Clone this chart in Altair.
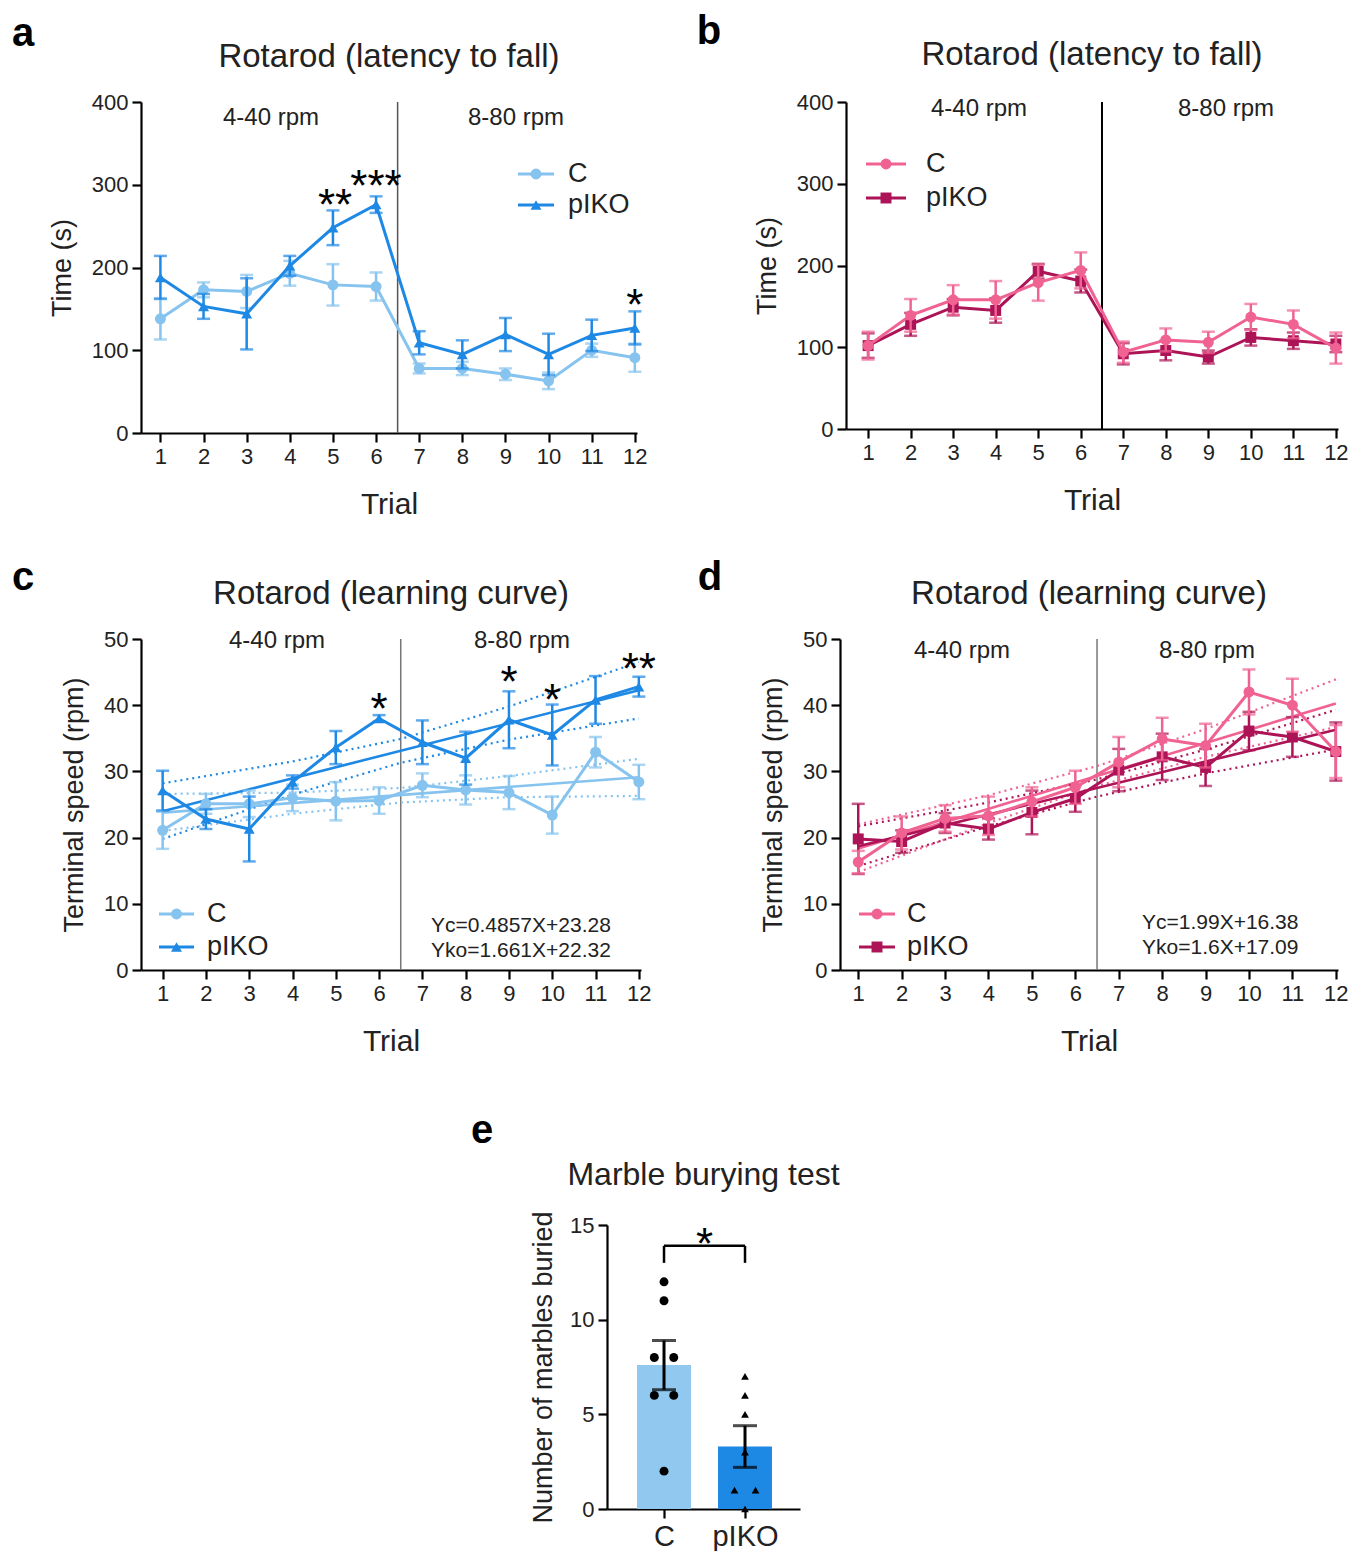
import altair as alt
import pandas as pd

FONT = "Liberation Sans, Arial, Helvetica, sans-serif"
TXT = "#222222"
LIGHT_BLUE = "#86C3EE"
BLUE = "#1E88E5"
PINK = "#F06292"
DPINK = "#AD1457"

TRIALS = list(range(1, 13))
GROUPS = ["C", "pIKO"]

# ---- panel a: latency to fall (blue) ----
a_C_mean = [138, 173, 171, 193, 179, 177, 78, 78, 71, 63, 100, 91]
a_C_sem = [25, 9, 20, 15, 25, 17, 6, 8, 7, 10, 8, 17]
a_K_mean = [188, 153, 144, 202, 248, 276, 109, 95, 119, 95, 118, 127]
a_K_sem = [26, 15, 43, 12, 21, 10, 14, 17, 20, 25, 19, 20]
a_stars = ["**", "***", "*"]
a_star_x = [5.05, 6.0, 12.0]
a_star_y = [289, 312, 168]

# ---- panel b: latency to fall (pink) ----
b_C_mean = [102, 139, 158, 158, 179, 194, 94, 109, 106, 137, 128, 99]
b_C_sem = [17, 20, 18, 23, 22, 22, 13, 14, 13, 16, 17, 19]
b_K_mean = [102, 128, 149, 145, 193, 181, 92, 96, 88, 112, 108, 104]
b_K_sem = [15, 14, 10, 15, 9, 14, 13, 12, 8, 10, 10, 10]

# ---- panel c: learning curve (blue) ----
c_C_mean = [21.1, 25.1, 25.1, 26.0, 25.5, 25.6, 27.9, 27.2, 26.8, 23.4, 32.9, 28.4]
c_C_sem = [2.8, 1.5, 2.0, 2.0, 2.9, 2.0, 1.8, 2.2, 2.5, 2.8, 2.3, 2.6]
c_K_mean = [27.1, 22.8, 21.3, 28.4, 33.6, 38.0, 34.4, 32.0, 37.8, 35.5, 40.8, 42.8]
c_K_sem = [3.0, 1.5, 4.9, 1.0, 2.5, 0.5, 3.3, 4.0, 4.3, 4.6, 3.6, 1.5]
c_fit_C = (0.4857, 23.28)
c_fit_K = (1.661, 22.32)
c_eq = ["Yc=0.4857X+23.28", "Yko=1.661X+22.32"]
band_x = [1, 4, 6.5, 9, 12]
c_C_up = [26.6, 26.8, 27.5, 29.3, 31.9]
c_C_lo = [21.0, 23.6, 25.3, 26.1, 26.3]
c_K_up = [28.2, 31.5, 34.9, 39.8, 46.5]
c_K_lo = [19.8, 26.5, 31.3, 34.8, 38.0]
c_stars = ["*", "*", "*", "**"]
c_star_x = [6, 9, 10, 12]
c_star_y = [41.1, 45.2, 42.4, 47.1]

# ---- panel d: learning curve (pink) ----
d_C_mean = [16.3, 20.7, 22.9, 23.3, 25.4, 27.6, 31.4, 34.9, 33.9, 42.0, 40.0, 33.0]
d_C_sem = [1.7, 2.5, 2.0, 2.9, 2.2, 2.5, 3.8, 3.2, 3.3, 3.4, 4.0, 4.0]
d_K_mean = [19.8, 19.4, 22.2, 21.3, 23.8, 25.9, 30.2, 32.2, 30.6, 36.1, 35.2, 33.0]
d_K_sem = [5.3, 1.7, 1.5, 1.6, 3.3, 2.0, 3.2, 3.5, 2.8, 2.9, 3.0, 4.4]
d_fit_C = (1.99, 16.38)
d_fit_K = (1.6, 17.09)
d_eq = ["Yc=1.99X+16.38", "Yko=1.6X+17.09"]
d_C_up = [22.0, 26.4, 30.8, 36.4, 43.9]
d_C_lo = [14.8, 22.2, 27.8, 32.2, 36.7]
d_K_up = [21.7, 25.3, 28.8, 33.3, 39.3]
d_K_lo = [15.7, 21.7, 26.2, 29.7, 33.3]

# ---- panel e: marble burying ----
e_groups = ["C", "pIKO"]
e_pos = [1, 2]
e_mean = [7.6, 3.3]
e_sem = [1.3, 1.1]
e_C_pts = [12, 11, 8, 8, 6, 6, 2]
e_C_jit = [0, 0, -0.12, 0.12, -0.12, 0.12, 0]
e_K_pts = [7, 6, 5, 3, 1, 1, 0]
e_K_jit = [0, 0, 0, 0, -0.13, 0.13, 0]

ONE = pd.DataFrame({"k": [0]})
STAR_FS = 44


def series_df(mean, sem):
    return pd.DataFrame({
        "trial": TRIALS,
        "val": mean,
        "lo": [m - s for m, s in zip(mean, sem)],
        "hi": [m + s for m, s in zip(mean, sem)],
    })


def text_at(txt, x, y, size, weight="normal", align="center", baseline="alphabetic",
            color=TXT):
    return alt.Chart(ONE).mark_text(text=txt, font=FONT, fontSize=size, fontWeight=weight,
                                    color=color, align=align, baseline=baseline).encode(
        x=alt.value(x), y=alt.value(y))


def line_panel(W, H, xdom, ydom, yticks, ytitle, title, title_y, letter, letter_xy,
               series, divider_color, divider_w, rpm_xy, legend, stars=None,
               fits=None, bands=None, eq=None, eq_xy=None):
    xs = alt.Scale(domain=xdom, nice=False, zero=False)
    ys = alt.Scale(domain=ydom, nice=False)
    xaxis = alt.Axis(values=TRIALS, title="Trial", format="d", titleFontSize=30,
                     titlePadding=22)
    yaxis = alt.Axis(values=yticks, title=ytitle, titlePadding=15)
    X = alt.X("trial:Q", scale=xs, axis=xaxis)

    def Y(f):
        return alt.Y(f + ":Q", scale=ys, axis=yaxis)

    layers = []
    # divider
    layers.append(alt.Chart(ONE).mark_rule(color=divider_color, strokeWidth=divider_w).encode(
        x=alt.X("v:Q", scale=xs, axis=xaxis), y=alt.value(0), y2=alt.value(H)
    ).transform_calculate(v="6.5"))
    # bands and fits
    if bands:
        for up, lo, col in bands:
            for arr in (up, lo):
                df = pd.DataFrame({"trial": band_x, "val": arr})
                layers.append(alt.Chart(df).mark_line(color=col, strokeWidth=2.2,
                                                       strokeDash=[2, 4]).encode(x=X, y=Y("val")))
    if fits:
        for (slope, icpt), col in fits:
            df = pd.DataFrame({"trial": [1, 12], "val": [slope * 1 + icpt, slope * 12 + icpt]})
            layers.append(alt.Chart(df).mark_line(color=col, strokeWidth=2.6).encode(x=X, y=Y("val")))
    for df, col, shape, _lab in series:
        layers.append(alt.Chart(df).mark_rule(color=col, strokeWidth=2.5).encode(
            x=X, y=Y("lo"), y2="hi"))
        for f in ("lo", "hi"):
            layers.append(alt.Chart(df).mark_tick(color=col, orient="horizontal", size=13,
                                                  thickness=2.5).encode(x=X, y=Y(f)))
        layers.append(alt.Chart(df).mark_line(color=col, strokeWidth=3).encode(x=X, y=Y("val")))
        layers.append(alt.Chart(df).mark_point(color=col, filled=True, opacity=1, shape=shape,
                                               size=120).encode(x=X, y=Y("val")))
    # rpm labels
    for txt, (px, py) in zip(["4-40 rpm", "8-80 rpm"], rpm_xy):
        layers.append(text_at(txt, px, py, 24, baseline="middle"))
    # stars
    if stars:
        sdf = pd.DataFrame({"trial": stars[1], "val": stars[2], "s": stars[0]})
        layers.append(alt.Chart(sdf).mark_text(font=FONT, fontSize=STAR_FS, color="black",
                                               align="center", baseline="alphabetic",
                                               dy=round(0.58 * STAR_FS)).encode(
            x=X, y=Y("val"), text="s:N"))
    # legend
    (lx1, lx2, ltx, ly1, ly2) = legend
    for (_df, col, shape, lab), ly in zip(series, [ly1, ly2]):
        layers.append(alt.Chart(ONE).mark_rule(color=col, strokeWidth=3).encode(
            x=alt.value(lx1), x2=alt.value(lx2), y=alt.value(ly)))
        layers.append(alt.Chart(ONE).mark_point(color=col, filled=True, opacity=1, shape=shape,
                                                size=120).encode(
            x=alt.value((lx1 + lx2) / 2), y=alt.value(ly)))
        layers.append(text_at(lab, ltx, ly, 27, align="left", baseline="middle"))
    if eq:
        for i, t in enumerate(eq):
            layers.append(text_at(t, eq_xy[0], eq_xy[1] + i * 25, 21, align="left",
                                  baseline="middle"))
    # panel title and letter
    layers.append(text_at(title, W / 2, title_y, 33))
    layers.append(text_at(letter, letter_xy[0], letter_xy[1], 40, weight="bold", color="black"))
    return alt.layer(*layers).properties(width=W, height=H)


XDOM = [0.55, 12.05]

# series tuples: (df, color, shape, label)
pa = line_panel(496, 331, XDOM, [0, 400], [0, 100, 200, 300, 400], "Time (s)",
                "Rotarod (latency to fall)", -35, "a", (-118, -56),
                [(series_df(a_C_mean, a_C_sem), LIGHT_BLUE, "circle", "C"),
                 (series_df(a_K_mean, a_K_sem), BLUE, "triangle-up", "pIKO")],
                "#555555", 1.5, [(130, 16), (375, 16)],
                (377, 413, 427, 72, 103),
                stars=(a_stars, a_star_x, a_star_y))

pb = line_panel(492, 327, [0.48, 12.05], [0, 400], [0, 100, 200, 300, 400], "Time (s)",
                "Rotarod (latency to fall)", -37, "b", (-137, -58),
                [(series_df(b_K_mean, b_K_sem), DPINK, "square", "pIKO"),
                 (series_df(b_C_mean, b_C_sem), PINK, "circle", "C")],
                "black", 2, [(133, 7), (380, 7)],
                (20, 60, 80, 96, 62))

pc = line_panel(500, 331, [0.5, 12.05], [0, 50], [0, 10, 20, 30, 40, 50], "Terminal speed (rpm)",
                "Rotarod (learning curve)", -35, "c", (-118, -49),
                [(series_df(c_C_mean, c_C_sem), LIGHT_BLUE, "circle", "C"),
                 (series_df(c_K_mean, c_K_sem), BLUE, "triangle-up", "pIKO")],
                "#777777", 1.5, [(136, 2), (381, 2)],
                (18, 53, 66, 275, 308),
                stars=(c_stars, c_star_x, c_star_y),
                fits=[(c_fit_C, LIGHT_BLUE), (c_fit_K, BLUE)],
                bands=[(c_C_up, c_C_lo, LIGHT_BLUE), (c_K_up, c_K_lo, BLUE)],
                eq=c_eq, eq_xy=(290, 287))

pd_ = line_panel(498, 331, [0.58, 12.05], [0, 50], [0, 10, 20, 30, 40, 50], "Terminal speed (rpm)",
                 "Rotarod (learning curve)", -35, "d", (-130, -49),
                 [(series_df(d_K_mean, d_K_sem), DPINK, "square", "pIKO"),
                  (series_df(d_C_mean, d_C_sem), PINK, "circle", "C")],
                 "#777777", 1.5, [(122, 12), (367, 12)],
                 (19, 55, 67, 308, 275),
                 fits=[(d_fit_C, PINK), (d_fit_K, DPINK)],
                 bands=[(d_C_up, d_C_lo, PINK), (d_K_up, d_K_lo, DPINK)],
                 eq=d_eq, eq_xy=(302, 284))

# ---- panel e ----
EW, EH = 193, 284
exs = alt.Scale(domain=[0.296, 2.679], nice=False, zero=False)
eys = alt.Scale(domain=[0, 15], nice=False)
exaxis = alt.Axis(values=e_pos, title=None, labelExpr="datum.value == 1 ? 'C' : 'pIKO'",
                  labelFontSize=29, labelPadding=18, labelBaseline="middle")
eyaxis = alt.Axis(values=[0, 5, 10, 15], title="Number of marbles buried", titlePadding=12)
bars = pd.DataFrame({"g": e_groups, "x": e_pos, "m": e_mean,
                     "xl": [p - 0.333 for p in e_pos], "xr": [p + 0.333 for p in e_pos],
                     "lo": [m - s for m, s in zip(e_mean, e_sem)],
                     "hi": [m + s for m, s in zip(e_mean, e_sem)], "z": [0, 0]})
ptsC = pd.DataFrame({"x": [1 + j for j in e_C_jit], "v": e_C_pts})
ptsK = pd.DataFrame({"x": [2 + j for j in e_K_jit], "v": e_K_pts})
EX = lambda f: alt.X(f + ":Q", scale=exs, axis=exaxis)
EY = lambda f: alt.Y(f + ":Q", scale=eys, axis=eyaxis)
br = pd.DataFrame({"x": [1, 2], "v": [13.9, 13.9], "v0": [13.0, 13.0]})
e_layers = [
    alt.Chart(bars).mark_rect().encode(
        x=EX("xl"), x2="xr", y=EY("z"), y2="m",
        color=alt.Color("g:N", scale=alt.Scale(domain=e_groups, range=["#90C8F0", "#1E88E5"]),
                        legend=None)),
    alt.Chart(ptsC).mark_point(shape="circle", filled=True, color="black", opacity=1,
                               size=80).encode(x=EX("x"), y=EY("v")),
    alt.Chart(ptsK).mark_point(shape="triangle-up", filled=True, color="black", opacity=1,
                               size=60).encode(x=EX("x"), y=EY("v")),
    alt.Chart(bars).mark_rule(color="black", strokeWidth=3).encode(x=EX("x"), y=EY("lo"), y2="hi"),
    alt.Chart(bars).mark_tick(color="black", orient="horizontal", size=24, thickness=3).encode(
        x=EX("x"), y=EY("hi")),
    alt.Chart(bars).mark_tick(color="black", orient="horizontal", size=24, thickness=3).encode(
        x=EX("x"), y=EY("lo")),
    alt.Chart(br).mark_rule(color="black", strokeWidth=2.5).encode(x=EX("x"), y=EY("v0"), y2="v"),
    alt.Chart(br).mark_line(color="black", strokeWidth=2.5).encode(x=EX("x"), y=EY("v")),
    alt.Chart(pd.DataFrame({"x": [1.5], "v": [14.56], "s": ["*"]})).mark_text(
        font=FONT, fontSize=STAR_FS, color="black", baseline="alphabetic",
        dy=round(0.58 * STAR_FS)).encode(x=EX("x"), y=EY("v"), text="s:N"),
    text_at("Marble burying test", EW / 2, -40, 32),
    text_at("e", -125, -82, 40, weight="bold", color="black"),
]
pe = alt.layer(*e_layers).properties(width=EW, height=EH)

spacer = alt.Chart(ONE).mark_point(opacity=0, size=1).encode(
    x=alt.value(0), y=alt.value(0)).properties(width=329, height=10)

top = alt.hconcat(pa, pb, spacing=48)
mid = alt.hconcat(pc, pd_, spacing=41)
bot = alt.hconcat(spacer, pe, spacing=0)
chart = alt.vconcat(alt.vconcat(top, mid, spacing=39), bot, spacing=55).properties(
    padding={"left": 3, "top": 4, "right": 5, "bottom": 0}, background="white"
).configure_view(stroke=None).configure_axis(
    grid=False, domainColor="black", domainWidth=2.2, tickColor="black", tickWidth=2.2,
    tickSize=9, labelFont=FONT, labelFontSize=22, labelColor=TXT, labelPadding=4,
    titleFont=FONT, titleFontSize=27, titleFontWeight="normal", titleColor=TXT
)

chart.save("out.html", embed_options={"renderer": "svg", "actions": False})
